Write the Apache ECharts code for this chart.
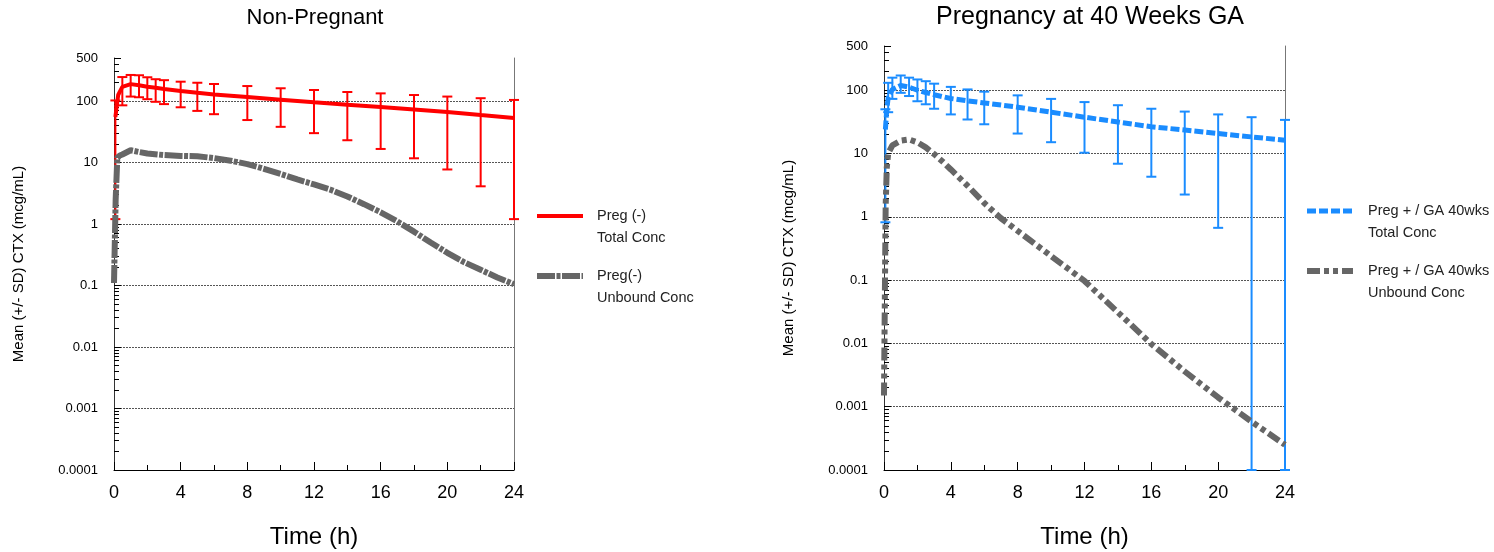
<!DOCTYPE html>
<html>
<head>
<meta charset="utf-8">
<title>CTX concentration</title>
<script src="https://cdn.jsdelivr.net/npm/echarts@6/dist/echarts.min.js"></script>
<style>
html, body { margin: 0; padding: 0; background: #fff; }
#chart { width: 1494px; height: 552px; }
</style>
</head>
<body>
<div id="chart"></div>
<script>
// ---- Non-pregnant (left) ----
const npTotalT = [0.083, 0.25, 0.5, 1, 1.5, 2, 2.5, 3, 4, 5, 6, 8, 10, 12, 14, 16, 18, 20, 22, 24]
const npTotalMean = [55, 125, 170, 188, 180, 171, 164, 157, 145, 136, 128, 116, 105, 95, 87, 80, 73, 66, 59, 53]

const npBarT = [0.083, 0.5, 1, 1.5, 2, 2.5, 3, 4, 5, 6, 8, 10, 12, 14, 16, 18, 20, 22, 24]
const npBarLo = [1.2, 85, 118, 115, 107, 97, 89, 79, 69, 61, 49, 38, 30, 23, 16.6, 11.7, 7.7, 4.1, 1.2]
const npBarHi = [102, 245, 265, 262, 243, 226, 218, 206, 198, 189, 175, 161, 151, 140, 133, 125, 118, 111, 104]

const npFreeT = [0, 0.1, 0.2, 0.35, 0.5, 1, 1.5, 2, 3, 4, 5, 6, 7, 8, 9, 10, 11, 12, 13, 14, 15, 16, 17, 18, 19, 20, 21, 22, 23, 24]
const npFree = [0.11, 2.5, 12, 13, 13.5, 15.8, 14.8, 14, 13.2, 12.8, 12.6, 11.8, 10.7, 9.4, 7.9, 6.5, 5.3, 4.4, 3.6, 2.8, 2.1, 1.55, 1.1, 0.75, 0.5, 0.34, 0.24, 0.18, 0.135, 0.105]

// ---- Pregnancy at 40 weeks GA (right) ----
const pgTotalT = [0.083, 0.167, 0.25, 0.5, 1, 1.5, 2, 2.5, 3, 4, 5, 6, 8, 10, 12, 14, 16, 18, 20, 22, 24]
const pgTotalMean = [24, 50, 76, 103, 119, 112, 100, 92, 85, 74, 68, 63, 54, 45, 37.5, 31.5, 26.5, 23.5, 20.7, 18.3, 16.2]

const pgBarT = [0.083, 0.25, 0.5, 1, 1.5, 2, 2.5, 3, 4, 5, 6, 8, 10, 12, 14, 16, 18, 20, 22, 24]
const pgBarLo = [0.82, 45, 73, 91, 81, 67, 60, 51, 41.5, 34.5, 29, 20.7, 15.1, 10.3, 6.9, 4.3, 2.25, 0.67, 0.0001, 0.0001]
const pgBarHi = [50, 131, 158, 171, 158, 148, 139, 127, 113, 103, 95, 83, 73, 65, 58, 51, 46, 41.5, 37.5, 34]

const pgFreeT = [0, 0.05, 0.1, 0.167, 0.25, 0.5, 1, 1.5, 2, 2.5, 3, 3.5, 4, 5, 6, 7, 8, 10, 12, 14, 16, 18, 20, 22, 24]
const pgFree = [0.0015, 0.05, 1.5, 6, 10, 13.5, 16, 16.7, 15, 12.5, 9.8, 7.5, 5.6, 3.1, 1.65, 0.95, 0.6, 0.24, 0.097, 0.031, 0.0098, 0.0036, 0.0014, 0.00058, 0.00025]

const yMin = 0.0001
const yMax = 500
const timeTicks = [0, 4, 8, 12, 16, 20, 24]

// leading \n keeps the first text line level with the legend line sample
const legendNames = {
  'np-total': '\nPreg (-)\nTotal Conc',
  'np-free': '\nPreg(-)\nUnbound Conc',
  'pg-total': '\nPreg + / GA 40wks\nTotal Conc',
  'pg-free': '\nPreg + / GA 40wks\nUnbound Conc'
}

const font = 'Liberation Sans, Arial, sans-serif'
const red = '#ff0000'
const blue = '#1a8cff'
const gray = '#666666'

const zip = (xs, ys) => xs.map((x, i) => [x, ys[i]])
const zip3 = (xs, a, b) => xs.map((x, i) => [x, a[i], b[i]])

function errorBar (color) {
  return function (params, api) {
    const t = api.value(0)
    const lo = api.coord([t, api.value(1)])
    const hi = api.coord([t, api.value(2)])
    const w = 5
    const style = { stroke: color, lineWidth: 2 }
    return {
      type: 'group',
      children: [
        { type: 'line', shape: { x1: lo[0], y1: lo[1], x2: hi[0], y2: hi[1] }, style },
        { type: 'line', shape: { x1: lo[0] - w, y1: lo[1], x2: lo[0] + w, y2: lo[1] }, style },
        { type: 'line', shape: { x1: hi[0] - w, y1: hi[1], x2: hi[0] + w, y2: hi[1] }, style }
      ]
    }
  }
}

function timeAxis (gridIndex) {
  return {
    type: 'value',
    gridIndex,
    min: timeTicks[0],
    max: timeTicks[timeTicks.length - 1],
    interval: 4,
    name: 'Time (h)',
    nameLocation: 'middle',
    nameGap: 55,
    nameTextStyle: { fontSize: 24, color: '#000', fontFamily: font },
    axisLine: { lineStyle: { color: '#000', width: 1 } },
    axisTick: { inside: true, length: 8, lineStyle: { color: '#000' } },
    minorTick: { show: true, splitNumber: 2, length: 5, lineStyle: { color: '#000' } },
    axisLabel: { fontSize: 18, color: '#000', margin: 14, fontFamily: font },
    splitLine: { show: false }
  }
}

function concAxis (gridIndex) {
  return {
    type: 'log',
    gridIndex,
    logBase: 10,
    min: yMin,
    max: yMax,
    name: 'Mean (+/- SD) CTX (mcg/mL)',
    nameLocation: 'middle',
    nameGap: 88,
    nameTextStyle: { fontSize: 15, color: '#000', fontFamily: font },
    axisLine: { show: true, lineStyle: { color: '#333', width: 1 } },
    axisTick: { inside: true, length: 7, lineStyle: { color: '#000' } },
    minorTick: { show: true, splitNumber: 9, length: 5, lineStyle: { color: '#000' } },
    axisLabel: { fontSize: 13, color: '#000', margin: 16, fontFamily: font },
    splitLine: {
      show: true,
      showMinLine: false,
      showMaxLine: false,
      lineStyle: { color: '#555', type: [2, 1], width: 1 }
    }
  }
}

function frameAxis (gridIndex) {
  return {
    type: 'value',
    gridIndex,
    position: 'right',
    axisLine: { show: true, lineStyle: { color: '#777', width: 1 } },
    axisTick: { show: false },
    axisLabel: { show: false },
    splitLine: { show: false }
  }
}

function legendItem (name, lineStyle) {
  // hide the round symbol ECharts puts in the middle of a line legend icon
  return { name, lineStyle, itemStyle: { opacity: 0 } }
}

const legendText = { fontSize: 14.5, color: '#222', lineHeight: 22, fontFamily: font }

const option = {
  animation: false,
  textStyle: { fontFamily: font },
  title: [
    { text: 'Non-Pregnant', left: 315, top: 7, textAlign: 'center', padding: 0,
      textStyle: { fontSize: 22, fontWeight: 'normal', color: '#000', fontFamily: font } },
    { text: 'Pregnancy at 40 Weeks GA', left: 1090, top: 5, textAlign: 'center', padding: 0,
      textStyle: { fontSize: 25, fontWeight: 'normal', color: '#000', fontFamily: font } }
  ],
  legend: [
    {
      orient: 'vertical', left: 534, top: 183, padding: 0, itemGap: -6,
      itemWidth: 46, itemHeight: 14,
      data: [
        legendItem('np-total', { width: 4 }),
        legendItem('np-free', { width: 6 })
      ],
      formatter: name => legendNames[name],
      textStyle: { ...legendText, padding: [0, 0, 0, 9] }
    },
    {
      orient: 'vertical', left: 1304, top: 178, padding: 0, itemGap: -6,
      itemWidth: 46, itemHeight: 14,
      data: [
        legendItem('pg-total', { width: 5 }),
        legendItem('pg-free', { width: 6 })
      ],
      formatter: name => legendNames[name],
      textStyle: { ...legendText, padding: [0, 0, 0, 10] }
    }
  ],
  grid: [
    { left: 114, right: 980, top: 58, bottom: 82, outerBoundsMode: 'none' },
    { left: 884, right: 209, top: 46, bottom: 82, outerBoundsMode: 'none' }
  ],
  xAxis: [timeAxis(0), timeAxis(1)],
  yAxis: [concAxis(0), frameAxis(0), concAxis(1), frameAxis(1)],
  series: [
    {
      name: 'np-free', type: 'line', xAxisIndex: 0, yAxisIndex: 0,
      data: zip(npFreeT, npFree), showSymbol: false, symbol: 'none',
      lineStyle: { color: gray, width: 6, type: [18, 1.5, 4, 1.5] }, itemStyle: { color: gray }
    },
    {
      name: 'np-total', type: 'line', xAxisIndex: 0, yAxisIndex: 0,
      data: zip(npTotalT, npTotalMean), showSymbol: false, symbol: 'none',
      lineStyle: { color: red, width: 4 }, itemStyle: { color: red }
    },
    {
      name: 'np-sd', type: 'custom', xAxisIndex: 0, yAxisIndex: 0,
      data: zip3(npBarT, npBarLo, npBarHi), encode: { x: 0, y: [1, 2] },
      renderItem: errorBar(red), z: 3
    },
    {
      name: 'pg-free', type: 'line', xAxisIndex: 1, yAxisIndex: 2,
      data: zip(pgFreeT, pgFree), showSymbol: false, symbol: 'none',
      lineStyle: { color: gray, width: 6, type: [13, 4, 5, 4, 5, 4] }, itemStyle: { color: gray }
    },
    {
      name: 'pg-total', type: 'line', xAxisIndex: 1, yAxisIndex: 2,
      data: zip(pgTotalT, pgTotalMean), showSymbol: false, symbol: 'none',
      lineStyle: { color: blue, width: 5, type: [9, 3] }, itemStyle: { color: blue }
    },
    {
      name: 'pg-sd', type: 'custom', xAxisIndex: 1, yAxisIndex: 2,
      data: zip3(pgBarT, pgBarLo, pgBarHi), encode: { x: 0, y: [1, 2] },
      renderItem: errorBar(blue), z: 3
    }
  ]
}

const chart = echarts.init(document.getElementById('chart'))
chart.setOption(option)
</script>
</body>
</html>
